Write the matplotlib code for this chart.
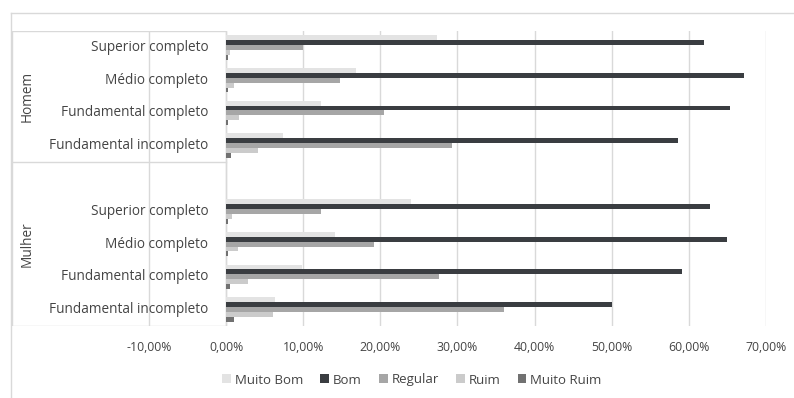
import numpy as np
import matplotlib.pyplot as plt
from matplotlib.patches import Rectangle
from matplotlib.lines import Line2D
from matplotlib.ticker import FuncFormatter

plt.rcParams["font.family"] = ["Open Sans", "DejaVu Sans"]

# rows top to bottom, one blank slot between the two groups
categories = ["Superior completo", "Médio completo", "Fundamental completo",
              "Fundamental incompleto", "",
              "Superior completo", "Médio completo", "Fundamental completo",
              "Fundamental incompleto"]
groups = ["Homem", "Mulher"]
series_names = ["Muito Bom", "Bom", "Regular", "Ruim", "Muito Ruim"]

muito_bom = [27.3, 16.8, 12.3, 7.4, np.nan, 24.0, 14.1, 9.9, 6.3]
bom = [61.9, 67.1, 65.3, 58.6, np.nan, 62.7, 64.9, 59.1, 50.1]
regular = [10.0, 14.8, 20.5, 29.3, np.nan, 12.3, 19.2, 27.6, 36.1]
ruim = [0.5, 1.0, 1.7, 4.2, np.nan, 0.8, 1.5, 2.8, 6.1]
muito_ruim = [0.2, 0.2, 0.2, 0.7, np.nan, 0.2, 0.2, 0.5, 1.0]

xticks = [-10, 0, 10, 20, 30, 40, 50, 60, 70]

colors = ["#e3e3e3", "#3a3d41", "#a6a6a6", "#cbcbcb", "#717171"]
txt = "#444444"
line_c = "#d9d9d9"

W, H = 794, 398
fig = plt.figure(figsize=(W / 100, H / 100), dpi=100)

# axes placed in pixel terms
left_px, right_px, top_px, bot_px = 12, 766, 31, 326
ax = fig.add_axes([left_px / W, 1 - bot_px / H,
                   (right_px - left_px) / W, (bot_px - top_px) / H])

zero_px = 226
px_per_unit = (right_px - zero_px) / 70.0
xmin = (left_px - zero_px) / px_per_unit
ax.set_xlim(xmin, 70)
ax.set_ylim(len(categories) - 0.5, -0.5)

y = np.arange(len(categories))
h = 0.15
all_series = [muito_bom, bom, regular, ruim, muito_ruim]
handles = []
for i, vals in enumerate(all_series):
    b = ax.barh(y + (i - 2) * h, vals, height=h, color=colors[i],
                label=series_names[i], zorder=2)
    handles.append(b)

# label box on the left
ax.add_patch(Rectangle((xmin, -0.5), -xmin, len(categories), facecolor="white",
                       edgecolor=line_c, lw=1, zorder=0.1))
ax.plot([xmin, 0], [3.5, 3.5], color=line_c, lw=1, zorder=0.2)

for yi, name in zip(y, categories):
    if name:
        ax.text(-2.3, yi, name, ha="right", va="center", fontsize=9.8, color=txt)
ax.text(xmin + 1.9, 1.5, groups[0], rotation=90, ha="center", va="center",
        fontsize=9.8, color=txt)
ax.text(xmin + 1.9, 6.0, groups[1], rotation=90, ha="center", va="center",
        fontsize=9.8, color=txt)

ax.set_xticks(xticks)
ax.xaxis.set_major_formatter(FuncFormatter(lambda v, p: ("%.2f%%" % (v)).replace(".", ",")))
ax.tick_params(axis="x", length=0, pad=11, labelsize=8.8, labelcolor=txt)
ax.set_yticks([])
ax.grid(axis="x", color=line_c, lw=1)
ax.set_axisbelow(True)
for s in ax.spines.values():
    s.set_visible(False)

# chart outer border (top and left visible)
fig.add_artist(Line2D([11 / W, 793 / W], [1 - 13 / H, 1 - 13 / H], color=line_c, lw=1))
fig.add_artist(Line2D([11 / W, 11 / W], [1 - 13 / H, 0], color=line_c, lw=1))

fig.legend(handles=handles, loc="center", bbox_to_anchor=(412 / W, 1 - 380 / H),
           ncol=5, frameon=False, fontsize=9.5, handlelength=0.65, handleheight=0.65,
           handletextpad=0.3, columnspacing=1.3, labelcolor=txt)

fig.savefig("out.png", dpi=100)
